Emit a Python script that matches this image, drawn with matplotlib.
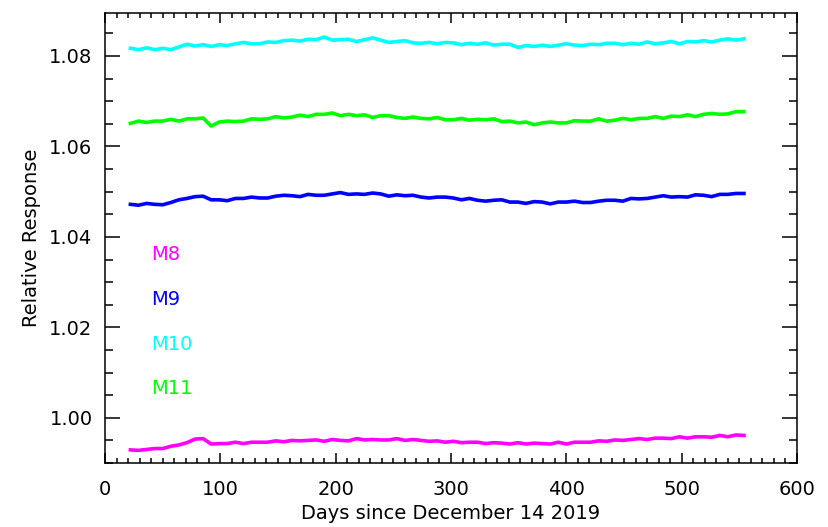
import matplotlib
matplotlib.use('Agg')
import matplotlib.pyplot as plt
from matplotlib.ticker import MultipleLocator

plt.rcParams['font.family'] = ['DejaVu Sans']

# days since December 14 2019 (one sample per week)
days = [22, 29, 36, 43, 50, 57, 64, 71, 78, 85, 92, 99, 106, 113, 120, 127, 134, 141, 148, 155,
        162, 169, 176, 183, 190, 197, 204, 211, 218, 225, 232, 239, 246, 253, 260, 267, 274, 281, 288, 295,
        302, 309, 316, 323, 330, 337, 344, 351, 358, 365, 372, 379, 386, 393, 400, 407, 414, 421, 428, 435,
        442, 449, 456, 463, 470, 477, 484, 491, 498, 505, 512, 519, 526, 533, 540, 547, 554]

m8 = [0.9929, 0.9928, 0.9930, 0.9932, 0.9932, 0.9937, 0.9940, 0.9945, 0.9953, 0.9954,
      0.9942, 0.9943, 0.9943, 0.9946, 0.9943, 0.9946, 0.9946, 0.9946, 0.9949, 0.9947,
      0.9950, 0.9949, 0.9950, 0.9951, 0.9948, 0.9952, 0.9950, 0.9949, 0.9954, 0.9951,
      0.9952, 0.9951, 0.9951, 0.9954, 0.9950, 0.9952, 0.9950, 0.9948, 0.9949, 0.9946,
      0.9948, 0.9945, 0.9946, 0.9946, 0.9943, 0.9945, 0.9944, 0.9942, 0.9945, 0.9942,
      0.9944, 0.9943, 0.9942, 0.9946, 0.9942, 0.9946, 0.9946, 0.9946, 0.9949, 0.9948,
      0.9951, 0.9950, 0.9952, 0.9954, 0.9952, 0.9955, 0.9955, 0.9954, 0.9958, 0.9955,
      0.9958, 0.9958, 0.9957, 0.9961, 0.9958, 0.9962, 0.9961]

m9 = [1.0472, 1.0470, 1.0474, 1.0472, 1.0471, 1.0476, 1.0482, 1.0485, 1.0489, 1.0490,
      1.0482, 1.0482, 1.0480, 1.0485, 1.0485, 1.0488, 1.0486, 1.0486, 1.0490, 1.0492,
      1.0491, 1.0489, 1.0494, 1.0492, 1.0492, 1.0495, 1.0498, 1.0494, 1.0495, 1.0494,
      1.0497, 1.0495, 1.0490, 1.0493, 1.0491, 1.0492, 1.0488, 1.0486, 1.0488, 1.0488,
      1.0486, 1.0482, 1.0485, 1.0481, 1.0479, 1.0481, 1.0482, 1.0477, 1.0477, 1.0474,
      1.0478, 1.0477, 1.0473, 1.0477, 1.0477, 1.0479, 1.0476, 1.0476, 1.0479, 1.0481,
      1.0481, 1.0479, 1.0485, 1.0484, 1.0485, 1.0488, 1.0491, 1.0488, 1.0489, 1.0488,
      1.0493, 1.0492, 1.0489, 1.0494, 1.0494, 1.0496, 1.0496]

m10 = [1.0817, 1.0814, 1.0818, 1.0814, 1.0817, 1.0814, 1.0820, 1.0826, 1.0822, 1.0825,
       1.0821, 1.0825, 1.0823, 1.0827, 1.0830, 1.0827, 1.0827, 1.0831, 1.0830, 1.0834,
       1.0835, 1.0833, 1.0837, 1.0836, 1.0842, 1.0835, 1.0836, 1.0837, 1.0832, 1.0836,
       1.0840, 1.0835, 1.0830, 1.0832, 1.0834, 1.0829, 1.0828, 1.0830, 1.0827, 1.0830,
       1.0829, 1.0825, 1.0828, 1.0826, 1.0829, 1.0824, 1.0826, 1.0826, 1.0819, 1.0823,
       1.0821, 1.0824, 1.0821, 1.0824, 1.0827, 1.0824, 1.0823, 1.0826, 1.0825, 1.0828,
       1.0828, 1.0825, 1.0828, 1.0826, 1.0831, 1.0827, 1.0829, 1.0832, 1.0827, 1.0832,
       1.0831, 1.0834, 1.0831, 1.0835, 1.0838, 1.0835, 1.0838]

m11 = [1.0651, 1.0656, 1.0653, 1.0656, 1.0656, 1.0660, 1.0656, 1.0661, 1.0661, 1.0663,
       1.0645, 1.0654, 1.0656, 1.0655, 1.0656, 1.0661, 1.0660, 1.0661, 1.0666, 1.0663,
       1.0665, 1.0669, 1.0666, 1.0671, 1.0671, 1.0674, 1.0668, 1.0671, 1.0668, 1.0670,
       1.0664, 1.0668, 1.0668, 1.0664, 1.0662, 1.0665, 1.0662, 1.0661, 1.0664, 1.0659,
       1.0659, 1.0662, 1.0658, 1.0660, 1.0659, 1.0661, 1.0655, 1.0656, 1.0652, 1.0654,
       1.0648, 1.0652, 1.0654, 1.0652, 1.0652, 1.0657, 1.0656, 1.0656, 1.0661, 1.0656,
       1.0658, 1.0662, 1.0659, 1.0662, 1.0662, 1.0666, 1.0662, 1.0667, 1.0666, 1.0670,
       1.0666, 1.0671, 1.0673, 1.0671, 1.0672, 1.0677, 1.0677]

names = ['M8', 'M9', 'M10', 'M11']
colors = ['#ff00ff', '#0000ff', '#00ffff', '#00ff00']
label_y = [1.0360, 1.0262, 1.0163, 1.0064]

fig = plt.figure(figsize=(8.29, 5.27), dpi=100)
ax = fig.add_axes([0.1267, 0.1214, 0.8347, 0.8539])

for vals, c in zip([m8, m9, m10, m11], colors):
    ax.plot(days, vals, color=c, lw=2.6)

for name, c, y in zip(names, colors, label_y):
    ax.text(40, y, name, color=c, fontsize=14, va='center', ha='left')

ax.set_xlim(0, 600)
ax.set_ylim(0.990, 1.0895)
ax.xaxis.set_major_locator(MultipleLocator(100))
ax.xaxis.set_minor_locator(MultipleLocator(10))
ax.yaxis.set_major_locator(MultipleLocator(0.02))
ax.yaxis.set_minor_locator(MultipleLocator(0.005))
ax.yaxis.set_major_formatter(plt.FormatStrFormatter('%.2f'))

ax.tick_params(axis='both', which='both', direction='in', top=True, right=True,
               labelsize=14, width=1.1, colors='black')
ax.tick_params(axis='x', which='major', length=7.5, pad=12)
ax.tick_params(axis='x', which='minor', length=3.8)
ax.tick_params(axis='y', which='major', length=11, pad=9)
ax.tick_params(axis='y', which='minor', length=5.5)
for s in ax.spines.values():
    s.set_linewidth(1.1)

ax.set_xlabel('Days since December 14 2019', fontsize=14, labelpad=4)
ax.set_ylabel('Relative Response', fontsize=14, labelpad=6)

fig.savefig('out.png', dpi=100)
